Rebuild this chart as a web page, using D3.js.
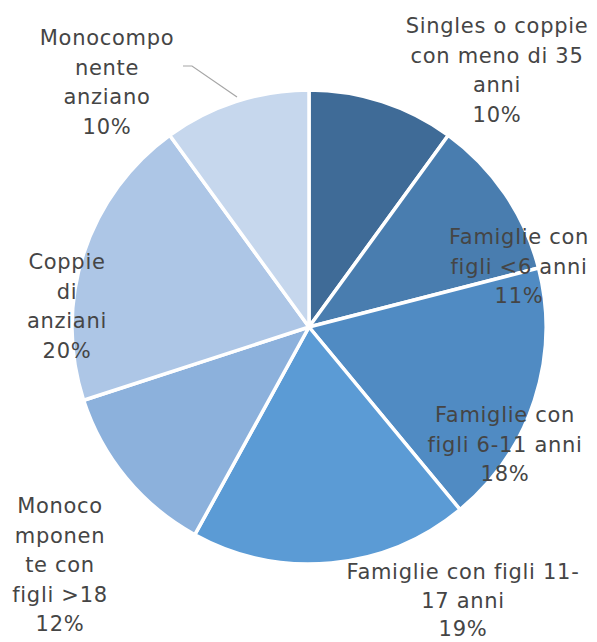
<!DOCTYPE html>
<html>
<head>
<meta charset="utf-8">
<script src="https://cdn.jsdelivr.net/npm/d3@7"></script>
<style>
  body { margin: 0; background: #fff; }
  svg text { font-family: "DejaVu Sans", sans-serif; fill: #454545; }
</style>
</head>
<body>
<div id="chart"></div>
<script>
// data
var categories = [
    "Singles o coppie con meno di 35 anni",
    "Famiglie con figli <6 anni",
    "Famiglie con figli 6-11 anni",
    "Famiglie con figli 11-17 anni",
    "Monocomponente con figli >18",
    "Coppie di anziani",
    "Monocomponente anziano"
];
var values = [10, 11, 18, 19, 12, 20, 10];
// label text as it is wrapped in the chart
var labelLines = [
    ["Singles o coppie", "con meno di 35", "anni"],
    ["Famiglie con", "figli <6  anni"],
    ["Famiglie con", "figli 6-11 anni"],
    ["Famiglie con figli 11-", "17 anni"],
    ["Monoco", "mponen", "te con", "figli >18"],
    ["Coppie", "di", "anziani"],
    ["Monocompo", "nente", "anziano"]
];
var colors = ["#3f6b97", "#497daf", "#508bc3", "#5b9bd5", "#8cb1dc", "#adc6e6", "#c6d7ed"];

// layout
var width = 597, height = 642;
var cx = 309, cy = 327, radius = 237;
var lineH = 29.5;
// x, y of the first line centre for every label
var labelAnchor = [[497, 26], [519, 237], [505, 415], [463, 572], [60, 506], [67, 262], [107, 38]];

var svg = d3.select("#chart")
    .append("svg")
    .attr("width", width)
    .attr("height", height);

var pie = d3.pie().sort(null).value(function (d) { return d; });
var arc = d3.arc().innerRadius(0).outerRadius(radius);

var g = svg.append("g")
    .attr("transform", "translate(" + cx + "," + cy + ")");

g.selectAll("path")
    .data(pie(values))
    .enter()
    .append("path")
    .attr("d", arc)
    .attr("fill", function (d, i) { return colors[i]; })
    .attr("stroke", "#fff")
    .attr("stroke-width", 3.5)
    .attr("stroke-linejoin", "round");

// leader line for the last slice
svg.append("polyline")
    .attr("points", "183,66 192,66 237,97")
    .attr("fill", "none")
    .attr("stroke", "#a6a6a6")
    .attr("stroke-width", 1.2);

// labels
var total = d3.sum(values);
categories.forEach(function (c, i) {
    var lines = labelLines[i].concat([Math.round(values[i] / total * 100) + "%"]);
    var t = svg.append("text")
        .attr("text-anchor", "middle")
        .style("font-size", "21px")
        .style("letter-spacing", "0.7px");
    lines.forEach(function (l, j) {
        t.append("tspan")
            .attr("x", labelAnchor[i][0])
            .attr("y", labelAnchor[i][1] + j * (i == 3 ? 28.5 : lineH))
            .attr("dy", "0.35em")
            .text(l);
    });
});
</script>
</body>
</html>
